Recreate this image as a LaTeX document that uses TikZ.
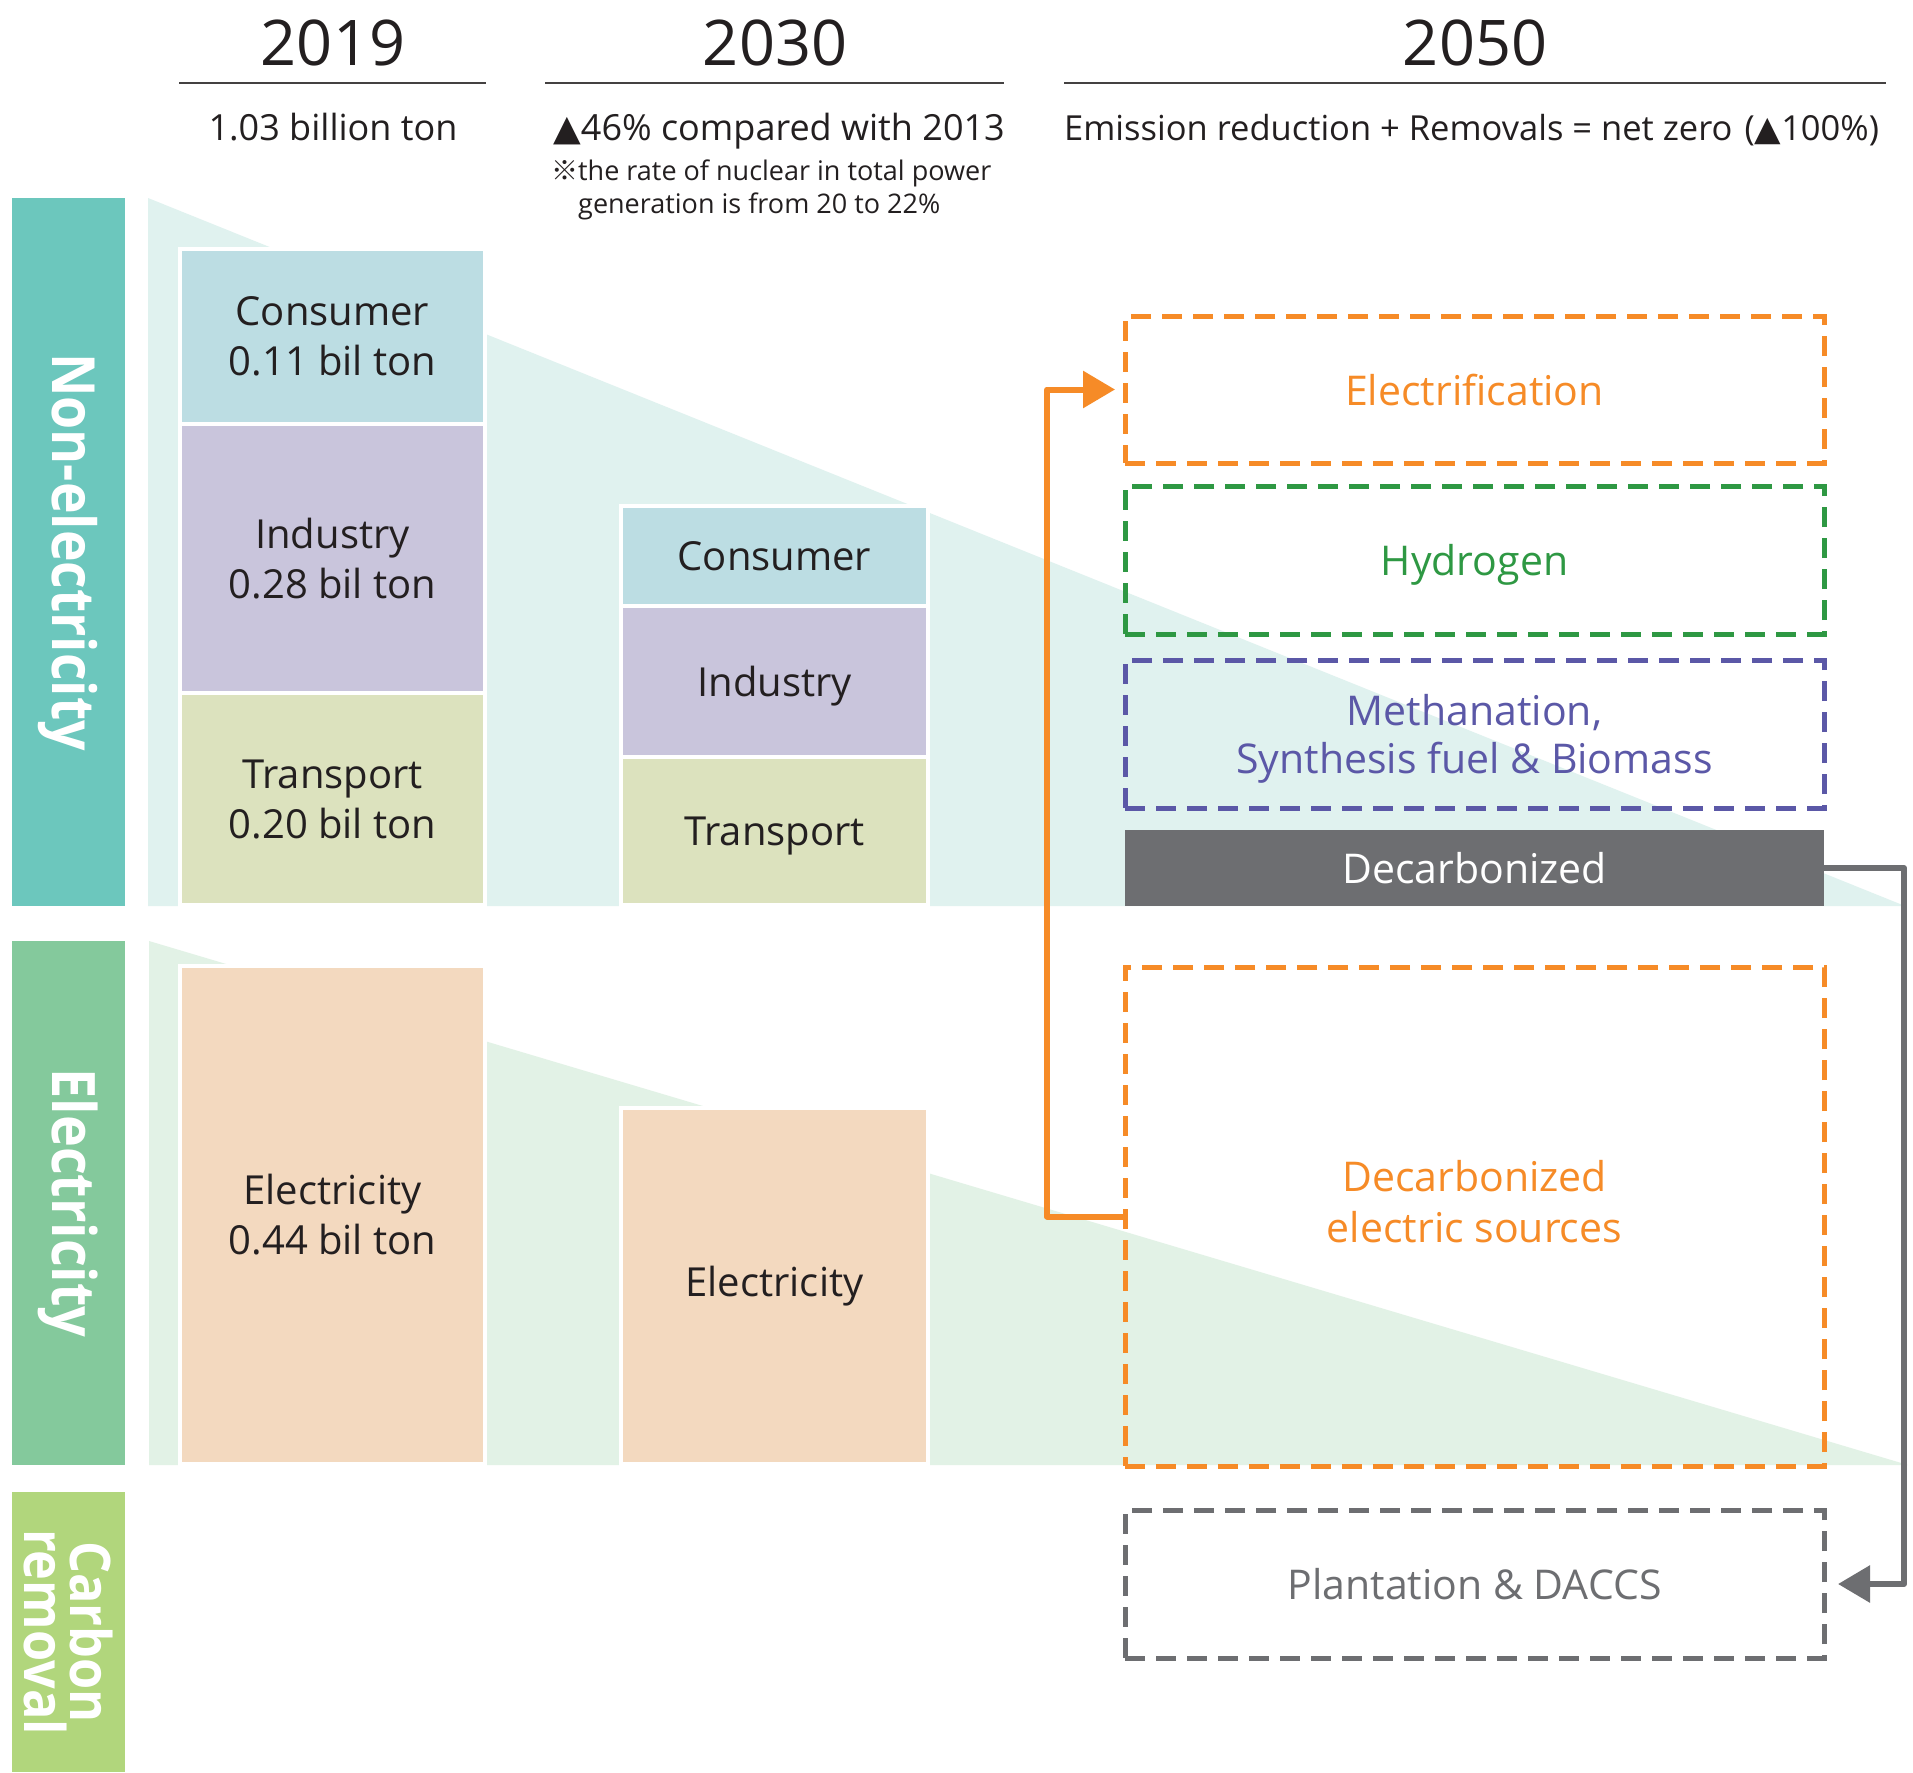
\documentclass[tikz,border=0pt]{standalone}
\usepackage{fontspec}
\setmainfont{Open Sans}
\newfontfamily\bandfnt[FakeStretch=0.9]{Open Sans}
\newfontfamily\symfnt{DejaVu Sans}
\newfontfamily\cjkfnt{Noto Sans CJK JP}
\usetikzlibrary{arrows.meta}
\definecolor{ink}{HTML}{231F20}
\definecolor{bandteal}{HTML}{6CC7BD}
\definecolor{bandgreen}{HTML}{84C99C}
\definecolor{bandlime}{HTML}{B1D67C}
\definecolor{tealbg}{HTML}{E0F2EF}
\definecolor{elecbg}{HTML}{E2F2E6}
\definecolor{consumerC}{HTML}{BCDDE3}
\definecolor{industryC}{HTML}{C9C5DC}
\definecolor{transportC}{HTML}{DCE2BE}
\definecolor{electricC}{HTML}{F3D9BF}
\definecolor{orangeC}{HTML}{F68B27}
\definecolor{greenC}{HTML}{2E9843}
\definecolor{purpleC}{HTML}{5B58A7}
\definecolor{grayC}{HTML}{6D6E71}
\begin{document}
\begin{tikzpicture}[x=1pt,y=-1pt,
  band/.style={rotate=-90, text=white, font=\bandfnt\bfseries\fontsize{58}{50}\selectfont, inner sep=0pt, outer sep=0pt, align=center},
  colbox/.style={draw=white, line width=4pt, inner sep=0pt, outer sep=0pt, align=center, text=ink, font=\fontsize{40}{50}\selectfont},
  dbox/.style={line width=5pt, dash pattern=on 20pt off 11pt, inner sep=0pt, outer sep=0pt, align=center, minimum width=699pt, text depth=0pt, font=\fontsize{41}{48}\selectfont},
  yr/.style={anchor=base, text=ink, font=\fontsize{63}{70}\selectfont, inner sep=0pt},
  subt/.style={anchor=base, text=ink, font=\fontsize{36}{44}\selectfont, inner sep=0pt},
  notet/.style={anchor=base west, text=ink, font=\fontsize{27}{32}\selectfont, inner sep=0pt},
  hrule/.style={draw=ink!85, line width=2.7pt},
  oconn/.style={draw=orangeC, line width=6pt, line join=round, -{Triangle[length=32pt,width=36pt]}, shorten >=10pt},
  gconn/.style={draw=grayC, line width=6pt, line join=round, -{Triangle[length=32pt,width=36pt]}, shorten >=14pt}
]
\useasboundingbox[fill=white] (0,0) rectangle (1913,1772);

% background wedges
\fill[tealbg] (148,198) -- (148,906) -- (1905,906) -- cycle;
\fill[elecbg] (149,941) -- (149,1465) -- (1908,1465) -- cycle;

% side bands
\node[band, fill=bandteal, minimum width=708pt, minimum height=113pt, font=\bandfnt\bfseries\fontsize{59.5}{50}\selectfont] (bne) at (68,552) {Non-electricity};
\node[band, fill=bandgreen, minimum width=524pt, minimum height=113pt, font=\bandfnt\bfseries\fontsize{60}{50}\selectfont] (bel) at (68,1203) {Electricity};
\node[band, fill=bandlime, minimum width=280pt, minimum height=113pt, font=\bandfnt\bfseries\fontsize{56}{46}\selectfont] (bcr) at (68,1632) {Carbon\\removal};

% headers
\node[yr] (y19) at (333,65) {2019};
\node[yr] (y30) at (775,65) {2030};
\node[yr] (y50) at (1475,65) {2050};
\draw[hrule] (179,83) -- (486,83);
\draw[hrule] (545,83) -- (1004,83);
\draw[hrule] (1064,83) -- (1886,83);
\node[subt] (s19) at (333,140) {1.03 billion ton};
\node[subt] (s30) at (779,140) {{\symfnt ▲}46\% compared with 2013};
\node[subt, anchor=base west, font=\fontsize{34.5}{44}\selectfont] (s50) at (1064,140) {Emission reduction + Removals = net zero\hspace{12pt}({\symfnt ▲}100\%)};
\node[notet] (n1) at (551,180) {{\cjkfnt ※}the rate of nuclear in total power};
\node[notet] (n2) at (551,213) {\hphantom{\cjkfnt ※}generation is from 20 to 22\%};

% 2019 column
\node[colbox, fill=consumerC, minimum width=305pt, minimum height=175pt] (c19) at (332.5,336.5) {Consumer\\0.11 bil ton};
\node[colbox, fill=industryC, minimum width=305pt, minimum height=269pt] (i19) at (332.5,558.5) {Industry\\0.28 bil ton};
\node[colbox, fill=transportC, minimum width=305pt, minimum height=212pt] (t19) at (332.5,799) {Transport\\0.20 bil ton};
\node[colbox, fill=electricC, minimum width=305pt, minimum height=498pt] (e19) at (332.5,1215) {Electricity\\0.44 bil ton};

% 2030 column
\node[colbox, fill=consumerC, minimum width=307pt, minimum height=100pt] (c30) at (774.5,556) {Consumer};
\node[colbox, fill=industryC, minimum width=307pt, minimum height=151pt, text depth=0pt] (i30) at (774.5,681.5) {Industry};
\node[colbox, fill=transportC, minimum width=307pt, minimum height=148pt, text depth=0pt] (t30) at (774.5,831) {Transport};
\node[colbox, fill=electricC, minimum width=307pt, minimum height=356pt] (e30) at (774.5,1286) {Electricity};

% 2050 column
\node[dbox, draw=orangeC, text=orangeC, minimum height=147pt] (elec) at (1474.5,389.5) {Electrification};
\node[dbox, draw=greenC, text=greenC, minimum height=148pt] (hyd) at (1474.5,560) {Hydrogen};
\node[dbox, draw=purpleC, text=purpleC, minimum height=148pt] (meth) at (1474.5,734) {Methanation,\\Synthesis fuel \& Biomass};
\node[fill=grayC, text=white, inner sep=0pt, outer sep=0pt, minimum width=699pt, minimum height=76pt, font=\fontsize{41}{48}\selectfont] (dbar) at (1474.5,868) {Decarbonized};
\node[dbox, draw=orangeC, text=orangeC, minimum height=499pt, text depth=30pt, font=\fontsize{41}{51}\selectfont] (dec) at (1474.5,1216.5) {Decarbonized\\electric sources};
\node[dbox, draw=grayC, text=grayC, minimum height=148pt] (plant) at (1474.5,1584) {Plantation \& DACCS};

% connectors
\draw[oconn] (dec.west) -- ++(-78,0) |- (elec.west);
\draw[gconn] (dbar.east) -- ++(80,0) |- (plant.east);
\end{tikzpicture}
\end{document}
